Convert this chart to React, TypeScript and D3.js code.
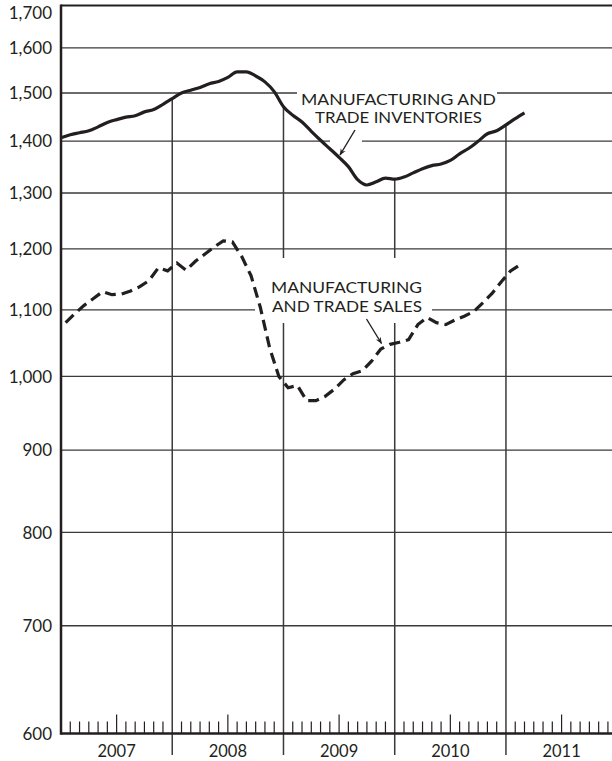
import React from "react";
import * as d3 from "d3";

// ---- data (monthly, starting January 2007) ----
const years = ["2007", "2008", "2009", "2010", "2011"];
const yTicks = [600, 700, 800, 900, 1000, 1100, 1200, 1300, 1400, 1500, 1600, 1700];

// Manufacturing and trade inventories, billions $ (month start, Jan 2007 .. Mar 2011)
const inventories = [
  1407, 1413, 1417, 1421, 1429, 1438, 1444, 1449, 1452, 1460, 1465, 1476,
  1488, 1500, 1506, 1512, 1520, 1525, 1534, 1546, 1546, 1537, 1524, 1503,
  1471, 1453, 1439, 1420, 1402, 1385, 1368, 1350, 1325, 1315, 1321, 1328,
  1326, 1330, 1338, 1346, 1352, 1355, 1362, 1375, 1386, 1400, 1415, 1421,
  1433, 1446, 1458,
];

// Manufacturing and trade sales, billions $ (mid-month, Jan 2007 .. Feb 2011)
const sales = [
  1080, 1094, 1107, 1118, 1129, 1124, 1125, 1130, 1137, 1147, 1168, 1163,
  1176, 1164, 1179, 1191, 1203, 1214, 1212, 1187, 1155, 1104, 1042, 1000,
  984, 987, 966, 966, 972, 982, 995, 1004, 1008, 1022, 1040, 1047,
  1050, 1054, 1077, 1088, 1080, 1077, 1084, 1090, 1097, 1111, 1126, 1145,
  1163, 1173,
];

const INK = "#231f20";
const GRID = "#3a3a3a";
const FONT = "Lato, 'DejaVu Sans', sans-serif";

export default function App() {
  const W = 612;
  const H = 761;
  const x = d3.scaleLinear().domain([0, 60]).range([61, 61 + 60 * 9.27]);
  const y = d3.scaleLog().domain([600, 1700]).range([733.5, 5.5]);
  const fmt = d3.format(",");

  const invLine = d3
    .line<number>()
    .x((_, i) => x(i))
    .y((d) => y(d))
    .curve(d3.curveMonotoneX)(inventories) as string;

  const salesLine = d3
    .line<number>()
    .x((_, i) => x(i + 0.5))
    .y((d) => y(d))(sales) as string;

  const axisY = y(600);
  const left = x(0);

  const monthTicks = d3.range(1, 60).filter((m) => m % 12 !== 0);
  const dividers = [12, 24, 36, 48];

  return (
    <svg
      width={W}
      height={H}
      viewBox={`0 0 ${W} ${H}`}
      style={{ position: "absolute", left: 0, top: 0, background: "#fff" }}
    >
      <rect x={0} y={0} width={W} height={H} fill="#fff" />
      <defs>
        <marker
          id="ah"
          viewBox="0 0 10 10"
          refX="9"
          refY="5"
          markerWidth="9"
          markerHeight="7"
          markerUnits="userSpaceOnUse"
          orient="auto"
        >
          <path d="M0,1 L10,5 L0,9 L3,5 Z" fill={INK} />
        </marker>
      </defs>

      {/* horizontal gridlines */}
      {yTicks
        .filter((v) => v !== 600 && v !== 1700)
        .map((v) => (
          <line key={v} x1={left} x2={W} y1={y(v)} y2={y(v)} stroke={GRID} strokeWidth={1.3} />
        ))}

      {/* year dividers: from inventories curve down below the axis */}
      {dividers.map((m) => (
        <line
          key={m}
          x1={x(m)}
          x2={x(m)}
          y1={y(inventories[m])}
          y2={755}
          stroke={GRID}
          strokeWidth={1.5}
        />
      ))}

      {/* month ticks */}
      {monthTicks.map((m) => (
        <line
          key={m}
          x1={x(m)}
          x2={x(m)}
          y1={axisY}
          y2={axisY - (m % 12 === 6 ? 19 : 12)}
          stroke={INK}
          strokeWidth={1.2}
        />
      ))}

      {/* white boxes behind annotations */}
      <rect x={297} y={86} width={200} height={42} fill="#fff" />
      <rect x={255} y={258} width={177} height={65} fill="#fff" />
      <rect x={330} y={136} width={32} height={10} fill="#fff" />

      {/* frame */}
      <line x1={left} x2={W} y1={y(1700)} y2={y(1700)} stroke={INK} strokeWidth={2.2} />
      <line x1={left} x2={W} y1={axisY} y2={axisY} stroke={INK} strokeWidth={2.5} />
      <line x1={left} x2={left} y1={y(1700) - 1} y2={axisY + 1.2} stroke={INK} strokeWidth={2.5} />

      {/* series */}
      <path d={invLine} fill="none" stroke={INK} strokeWidth={3.2} strokeLinejoin="round" />
      <path
        d={salesLine}
        fill="none"
        stroke={INK}
        strokeWidth={3.2}
        strokeDasharray="11 6"
      />

      {/* y tick labels */}
      {yTicks.map((v) => (
        <text
          key={v}
          x={52}
          y={Math.max(y(v), 13) + 6.2}
          textAnchor="end"
          fontFamily={FONT}
          fontSize={17}
          fill={INK}
        >
          {fmt(v)}
        </text>
      ))}

      {/* year labels */}
      {years.map((yr, k) => (
        <text
          key={yr}
          x={x(k * 12 + 6)}
          y={757}
          textAnchor="middle"
          fontFamily={FONT}
          fontSize={16.5}
          fill={INK}
        >
          {yr}
        </text>
      ))}

      {/* annotations */}
      <g fontFamily={FONT} fontSize={16} fill={INK}>
        <text x={301} y={104.5} textLength={195} lengthAdjust="spacingAndGlyphs">
          MANUFACTURING AND
        </text>
        <text x={315} y={123.3} textLength={167} lengthAdjust="spacingAndGlyphs">
          TRADE INVENTORIES
        </text>
        <text x={271} y={292.7} textLength={151} lengthAdjust="spacingAndGlyphs">
          MANUFACTURING
        </text>
        <text x={272} y={311.7} textLength={150} lengthAdjust="spacingAndGlyphs">
          AND TRADE SALES
        </text>
      </g>
      <line x1={355} y1={130} x2={340} y2={155} stroke={INK} strokeWidth={1.4} markerEnd="url(#ah)" />
      <line x1={366.5} y1={319} x2={381.5} y2={343.5} stroke={INK} strokeWidth={1.4} markerEnd="url(#ah)" />
    </svg>
  );
}
